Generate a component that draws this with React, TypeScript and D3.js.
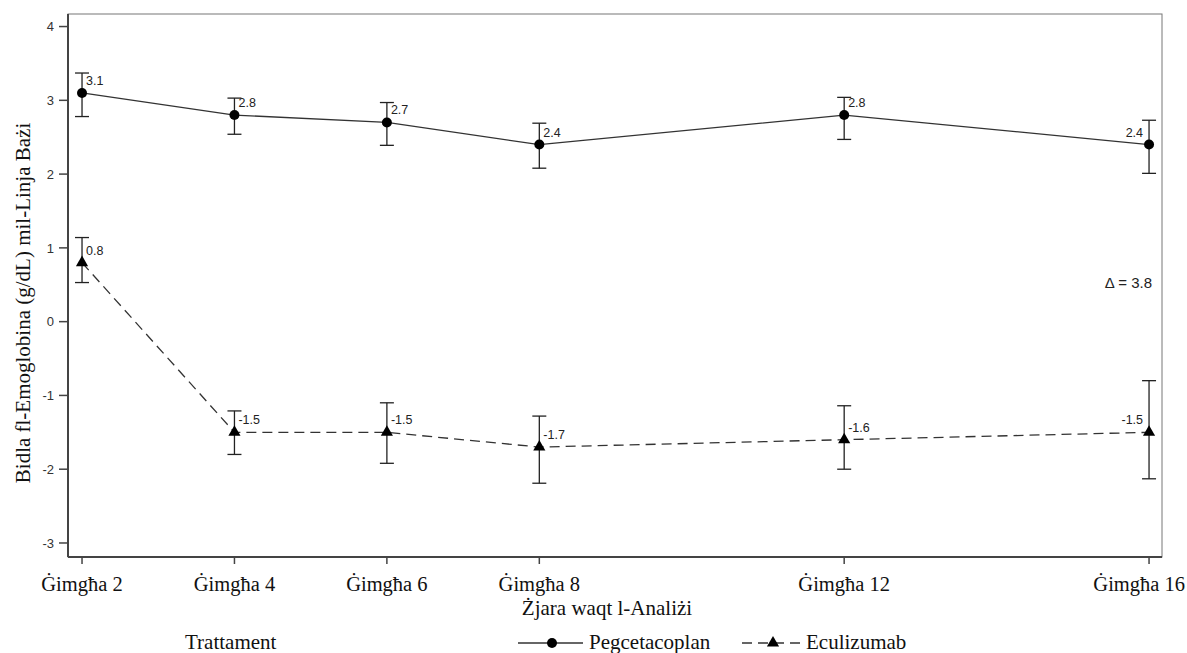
import * as d3 from "d3";

// weeks of analysis
const weeks = [2, 4, 6, 8, 12, 16];
const weekLabels = ["Ġimgħa 2", "Ġimgħa 4", "Ġimgħa 6", "Ġimgħa 8", "Ġimgħa 12", "Ġimgħa 16"];

// Pegcetacoplan: mean change and 95% CI
const pegMean = [3.1, 2.8, 2.7, 2.4, 2.8, 2.4];
const pegLower = [2.78, 2.54, 2.39, 2.08, 2.47, 2.01];
const pegUpper = [3.37, 3.03, 2.97, 2.69, 3.04, 2.73];

// Eculizumab
const eculMean = [0.8, -1.5, -1.5, -1.7, -1.6, -1.5];
const eculLower = [0.53, -1.8, -1.92, -2.19, -2.0, -2.13];
const eculUpper = [1.14, -1.21, -1.1, -1.28, -1.14, -0.8];

const yTicks = [-3, -2, -1, 0, 1, 2, 3, 4];
const deltaText = "Δ = 3.8";

const width = 1187;
const height = 653;
const margin = { top: 14, right: 25, bottom: 96, left: 68 };

const sans = "Arial, 'Liberation Sans', sans-serif";
const serif = "'Times New Roman', 'Liberation Serif', serif";
const ink = "#222";

export default function App() {
  const x = d3.scaleLinear().domain([1.816, 16.17]).range([margin.left, width - margin.right]);
  const y = d3.scaleLinear().domain([-3.19, 4.17]).range([height - margin.bottom, margin.top]);

  const line = d3.line<number>().x((_, i) => x(weeks[i])).y(d => y(d));

  const series = [
    { name: "Pegcetacoplan", mean: pegMean, lo: pegLower, hi: pegUpper, dash: null, marker: "circle" },
    { name: "Eculizumab", mean: eculMean, lo: eculLower, hi: eculUpper, dash: "10,6", marker: "triangle" },
  ];

  const tri = d3.symbol().type(d3.symbolTriangle).size(64)();
  const x0 = margin.left;
  const x1 = width - margin.right;
  const y0 = margin.top;
  const y1 = height - margin.bottom;

  const fmt = (v: number) => v.toFixed(1);

  return (
    <svg width={width} height={height} style={{ position: "absolute", left: 0, top: 0, background: "#fff" }}>
      {/* frame */}
      <rect x={x0} y={y0} width={x1 - x0} height={y1 - y0} fill="none" stroke="#777" strokeWidth={1} />
      <line x1={x0} x2={x0} y1={y0} y2={y1} stroke="#444" strokeWidth={2} />
      <line x1={x0} x2={x1} y1={y1} y2={y1} stroke="#444" strokeWidth={2} />

      {/* y axis */}
      {yTicks.map(t => (
        <g key={t}>
          <line x1={x0 - 9} x2={x0} y1={y(t)} y2={y(t)} stroke="#444" strokeWidth={1.5} />
          <text x={x0 - 14} y={y(t)} dy="0.36em" textAnchor="end" fontFamily={sans} fontSize={13} fill="#333">
            {t}
          </text>
        </g>
      ))}
      <text
        transform={`translate(30,303) rotate(-90)`}
        textAnchor="middle"
        fontFamily={serif}
        fontSize={21}
        fill="#111"
      >
        Bidla fl-Emoglobina (g/dL) mil-Linja Bażi
      </text>

      {/* x axis */}
      {weeks.map((w, i) => (
        <g key={w}>
          <line x1={x(w)} x2={x(w)} y1={y1} y2={y1 + 7} stroke="#444" strokeWidth={1.5} />
          <text
            x={i === weeks.length - 1 ? width - 2 : x(w)}
            y={y1 + 34}
            textAnchor={i === weeks.length - 1 ? "end" : "middle"}
            fontFamily={serif}
            fontSize={20.5}
            fill="#111"
          >
            {weekLabels[i]}
          </text>
        </g>
      ))}
      <text x={607} y={y1 + 58} textAnchor="middle" fontFamily={serif} fontSize={21} fill="#111">
        Żjara waqt l-Analiżi
      </text>

      {/* series */}
      {series.map(s => (
        <g key={s.name}>
          <path d={line(s.mean) || ""} fill="none" stroke="#333" strokeWidth={1.3} strokeDasharray={s.dash || undefined} />
          {s.mean.map((m, i) => {
            const cx = x(weeks[i]);
            const last = i === weeks.length - 1;
            return (
              <g key={i}>
                <line x1={cx} x2={cx} y1={y(s.lo[i])} y2={y(s.hi[i])} stroke={ink} strokeWidth={1.3} />
                <line x1={cx - 7} x2={cx + 7} y1={y(s.lo[i])} y2={y(s.lo[i])} stroke={ink} strokeWidth={1.3} />
                <line x1={cx - 7} x2={cx + 7} y1={y(s.hi[i])} y2={y(s.hi[i])} stroke={ink} strokeWidth={1.3} />
                {s.marker === "circle" ? (
                  <circle cx={cx} cy={y(m)} r={5} fill="#000" />
                ) : (
                  <path d={tri || ""} transform={`translate(${cx},${y(m)})`} fill="#000" />
                )}
                <text
                  x={last ? cx - 6 : cx + 4}
                  y={y(m) - 8}
                  textAnchor={last ? "end" : "start"}
                  fontFamily={sans}
                  fontSize={12.5}
                  fill="#222"
                >
                  {fmt(m)}
                </text>
              </g>
            );
          })}
        </g>
      ))}

      <text x={x1 - 10} y={288} textAnchor="end" fontFamily={sans} fontSize={15} fill="#222">
        {deltaText}
      </text>

      {/* legend */}
      <g fontFamily={serif} fontSize={21} fill="#111">
        <text x={185} y={649}>Trattament</text>
        <line x1={518} x2={583} y1={643} y2={643} stroke="#333" strokeWidth={1.3} />
        <circle cx={552} cy={643} r={5} fill="#000" />
        <text x={589} y={649}>Pegcetacoplan</text>
        <line x1={742} x2={801} y1={643} y2={643} stroke="#333" strokeWidth={1.3} strokeDasharray="10,6" />
        <path d={tri || ""} transform="translate(773,643)" fill="#000" />
        <text x={806} y={649}>Eculizumab</text>
      </g>
    </svg>
  );
}
